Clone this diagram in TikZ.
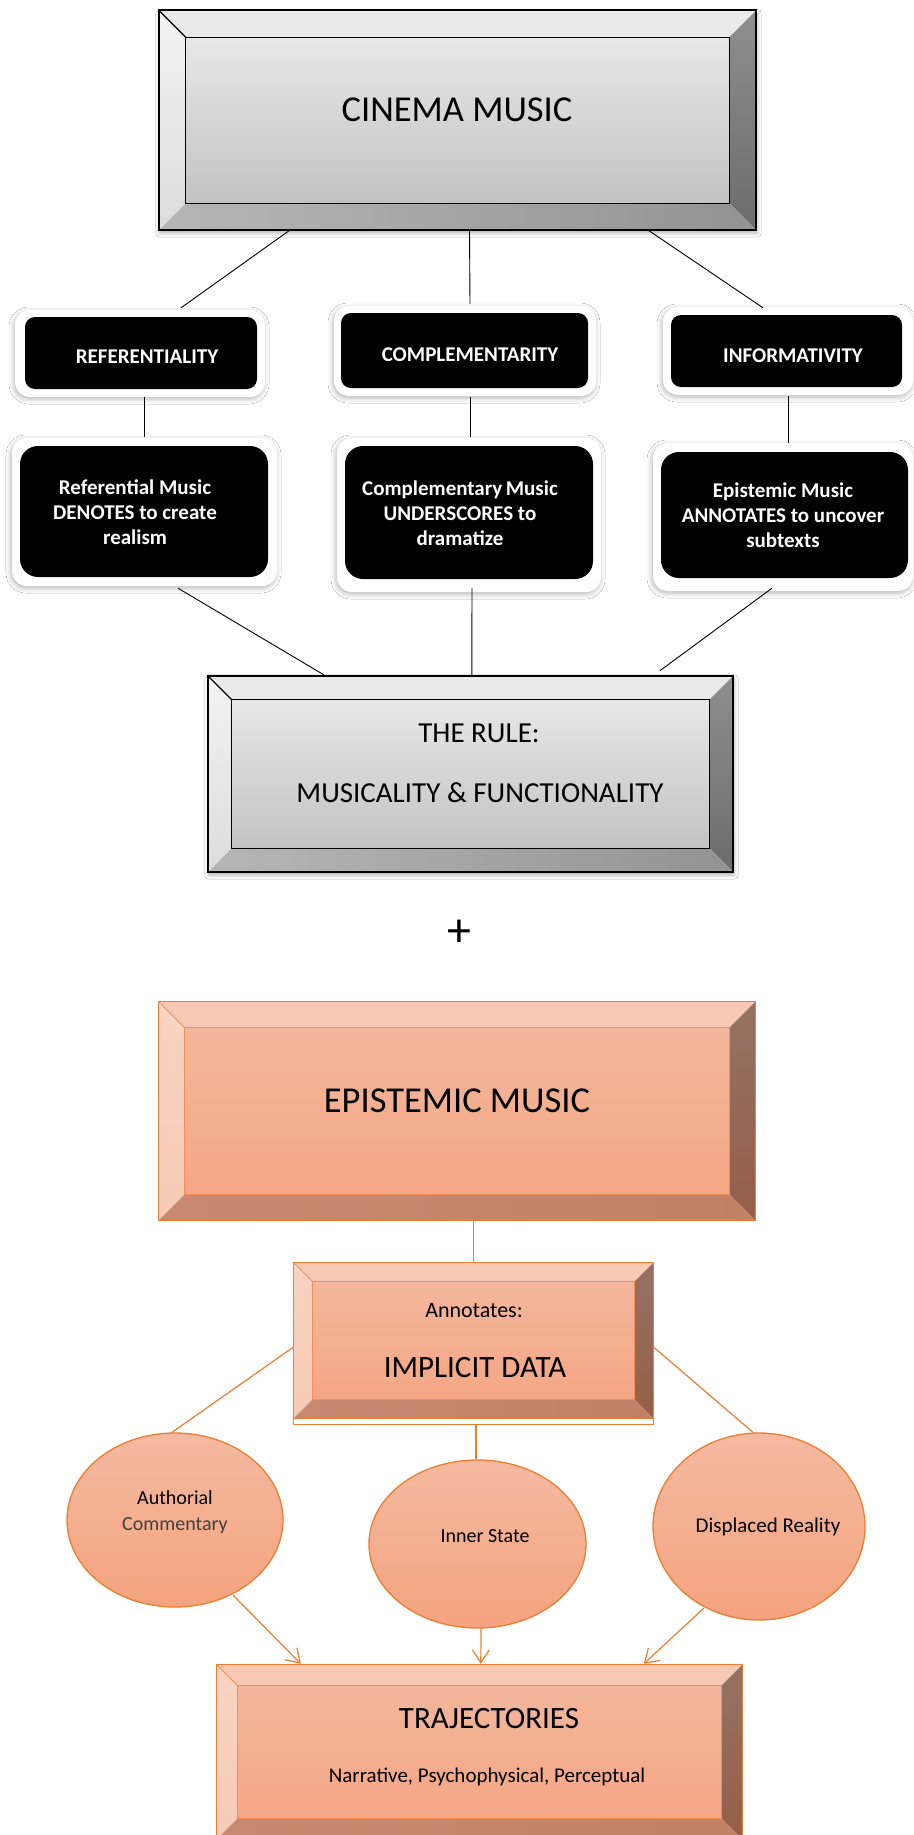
\documentclass[tikz,border=0pt]{standalone}
\usepackage{fontspec}
\setmainfont{Carlito}
\usetikzlibrary{calc,shapes.geometric,arrows.meta,shadows.blur}

% grey bevelled frame
\definecolor{gTop}{HTML}{EAEAEA}
\definecolor{gLeftA}{HTML}{F3F3F3}
\definecolor{gLeftB}{HTML}{DCDCDC}
\definecolor{gRightA}{HTML}{8F8F8F}
\definecolor{gRightB}{HTML}{6C6C6C}
\definecolor{gBotA}{HTML}{B6B6B6}
\definecolor{gBotB}{HTML}{939393}
\definecolor{gFaceA}{HTML}{E7E7E7}
\definecolor{gFaceB}{HTML}{C3C3C3}
% peach bevelled frame
\definecolor{pTop}{HTML}{F7C9B4}
\definecolor{pLeftA}{HTML}{F9D4C3}
\definecolor{pLeftB}{HTML}{F6CAB6}
\definecolor{pRightA}{HTML}{957264}
\definecolor{pRightB}{HTML}{955F48}
\definecolor{pBotA}{HTML}{C78A70}
\definecolor{pBotB}{HTML}{C18166}
\definecolor{pFaceA}{HTML}{F3B79D}
\definecolor{pFaceB}{HTML}{F4A684}
\definecolor{pInner}{HTML}{EE9058}
\definecolor{pLine}{HTML}{ED7D31}
\definecolor{ellA}{HTML}{F4BAA1}
\definecolor{ellB}{HTML}{F4A37E}

\tikzset{
  boxnode/.style={rectangle, draw=none, inner sep=0pt},
  grey base/.style={fill=white, blur shadow={shadow xshift=1pt, shadow yshift=-3pt, shadow blur radius=4pt, shadow opacity=30}},
  grey top/.style={fill=gTop},
  grey left/.style={top color=gLeftA, bottom color=gLeftB},
  grey right/.style={top color=gRightA, bottom color=gRightB},
  grey bottom/.style={left color=gBotA, right color=gBotB},
  grey face/.style={top color=gFaceA, bottom color=gFaceB},
  grey inner line/.style={draw=black, line width=1.1pt},
  grey outer line/.style={draw=black, line width=2pt},
  peach base/.style={fill=white},
  peach top/.style={fill=pTop},
  peach left/.style={top color=pLeftA, bottom color=pLeftB},
  peach right/.style={top color=pRightA, bottom color=pRightB},
  peach bottom/.style={left color=pBotA, right color=pBotB},
  peach face/.style={top color=pFaceA, bottom color=pFaceB},
  peach inner line/.style={draw=pInner, line width=0.9pt},
  peach outer line/.style={draw=pLine, line width=1.3pt},
  glow/.style={fill=white, rounded corners=15pt,
    blur shadow={shadow xshift=-1pt, shadow yshift=-2pt, shadow blur radius=5pt, shadow opacity=30}},
  blackbox/.style={rectangle, fill=black, inner sep=0pt},
  ell/.style={ellipse, draw=pLine, line width=1.3pt, top color=ellA, bottom color=ellB, inner sep=0pt},
  lbl/.style={anchor=base, inner sep=0pt, text=black},
  wlbl/.style={anchor=base, inner sep=0pt, text=white, font=\bfseries\fontsize{21}{25}\selectfont, align=center},
  bline/.style={draw=black, line width=0.9pt},
  oline/.style={draw=pLine, line width=1.2pt},
  oarrow/.style={oline, -{Straight Barb[length=13pt, width=17pt, line width=1.2pt]}},
}

% bevelled frame drawn on the corners of a named node
\newcommand{\drawbevelbox}[3]{%
  \coordinate (bvA) at (#1.north west);
  \coordinate (bvB) at (#1.north east);
  \coordinate (bvC) at (#1.south east);
  \coordinate (bvD) at (#1.south west);
  \coordinate (bva) at ($(bvA)+(#2,#2)$);
  \coordinate (bvb) at ($(bvB)+(-#2,#2)$);
  \coordinate (bvc) at ($(bvC)+(-#2,-#2)$);
  \coordinate (bvd) at ($(bvD)+(#2,-#2)$);
  \path[#3 base] (bvA) rectangle (bvC);
  \fill[#3 top] (bvA)--(bvB)--(bvb)--(bva)--cycle;
  \shade[#3 left] (bvA)--(bva)--(bvd)--(bvD)--cycle;
  \shade[#3 right] (bvB)--(bvC)--(bvc)--(bvb)--cycle;
  \shade[#3 bottom] (bvD)--(bvd)--(bvc)--(bvC)--cycle;
  \shade[#3 face] (bva) rectangle (bvc);
  \draw[#3 inner line] (bva) rectangle (bvc);
  \draw[#3 inner line] (bvA)--(bva);
  \draw[#3 outer line] (bvA) rectangle (bvC);
}

\begin{document}
\begin{tikzpicture}[x=1pt, y=-1pt]
\fill[white] (0,0) rectangle (913,1835);
\useasboundingbox (0,0) rectangle (913,1835);

% ---------- upper half: cinema music ----------
\node[boxnode, minimum width=597, minimum height=219.5] (cinema) at (457.5,120.25) {};
\drawbevelbox{cinema}{27}{grey}
\node[lbl, font=\fontsize{36.5}{43}\selectfont] (cinema-t) at (457,122) {CINEMA MUSIC};

% glows behind the black boxes
\path[glow] (15,310) rectangle (265,397);
\path[glow] (334,306) rectangle (596,396);
\path[glow] (663,307) rectangle (913,395);
\path[glow] (12,438) rectangle (277,586);
\path[glow] (337,438) rectangle (601,592);
\path[glow] (653,443) rectangle (913,591);

\node[blackbox, rounded corners=10pt, minimum width=232, minimum height=72] (ref1) at (141,353) {};
\node[blackbox, rounded corners=10pt, minimum width=247, minimum height=75] (comp1) at (464.5,350.5) {};
\node[blackbox, rounded corners=10pt, minimum width=231, minimum height=72] (info1) at (786.5,351) {};
\node[wlbl] (ref1-t) at (147,363) {REFERENTIALITY};
\node[wlbl] (comp1-t) at (470,361) {COMPLEMENTARITY};
\node[wlbl] (info1-t) at (793,362) {INFORMATIVITY};

\node[blackbox, rounded corners=18pt, minimum width=248, minimum height=131] (ref2) at (144,511.5) {};
\node[blackbox, rounded corners=18pt, minimum width=248, minimum height=133] (comp2) at (469,512.5) {};
\node[blackbox, rounded corners=18pt, minimum width=247, minimum height=126] (epi2) at (784.5,515) {};
\node[wlbl, anchor=center] (ref2-t) at (135,512) {Referential Music\\DENOTES to create\\realism};
\node[wlbl, anchor=center] (comp2-t) at (460,513) {Complementary\,Music\\UNDERSCORES to\\dramatize};
\node[wlbl, anchor=center] (epi2-t) at (783,515) {Epistemic Music\\ANNOTATES to uncover\\subtexts};

\node[boxnode, minimum width=525, minimum height=196] (rule) at (470.5,774) {};
\drawbevelbox{rule}{24}{grey}
\node[lbl, font=\fontsize{29}{35}\selectfont] (rule-t1) at (479,742) {THE RULE:};
\node[lbl, font=\fontsize{29}{35}\selectfont] (rule-t2) at (480,802) {MUSICALITY \& FUNCTIONALITY};

% connectors of the upper half
\draw[bline] ($(cinema.south west)+(131,0)$) -- ($(ref1.north)+(40,-9)$);
\draw[bline] ($(cinema.south)+(12,0)$) -- ($(comp1.north)+(5.5,-9)$);
\draw[bline] ($(cinema.south east)+(-108,0)$) -- ($(info1.north)+(-23.5,-7)$);
\draw[bline] ($(ref1.south)+(3,8)$) -- ($(ref2.north)+(0,-9)$);
\draw[bline] ($(comp1.south)+(5.5,9)$) -- ($(comp2.north)+(1,-9)$);
\draw[bline] ($(info1.south)+(1.5,9)$) -- ($(epi2.north)+(3.5,-9)$);
\draw[bline] ($(ref2.south)+(34,11)$) -- ($(rule.north west)+(116,-1)$);
\draw[bline] ($(comp2.south)+(3,9)$) -- ($(rule.north west)+(264,-1)$);
\draw[bline] ($(epi2.south)+(-12.5,10)$) -- ($(rule.north west)+(452,-5)$);

% ---------- plus sign ----------
\node[inner sep=0pt, font=\fontsize{48}{50}\selectfont] (plus) at (459.5,933) {+};

% ---------- lower half: epistemic music ----------
\node[boxnode, minimum width=596, minimum height=218] (epi) at (457,1111) {};
\drawbevelbox{epi}{26}{peach}
\node[lbl, font=\fontsize{36.5}{43}\selectfont] (epi-t) at (457,1112) {EPISTEMIC MUSIC};

\node[boxnode, minimum width=359, minimum height=155] (annot) at (473.5,1340.5) {};
\drawbevelbox{annot}{19}{peach}
\draw[peach outer line] (annot.north west) rectangle ($(annot.south east)+(0,6)$);
\node[lbl, font=\fontsize{22}{26}\selectfont] (annot-t1) at (474,1317) {Annotates:};
\node[lbl, font=\fontsize{31}{37}\selectfont] (annot-t2) at (475,1377) {IMPLICIT DATA};

\node[ell, minimum width=216, minimum height=174] (auth) at (175,1520) {};
\node[ell, minimum width=217, minimum height=168] (innerst) at (477.5,1544) {};
\node[ell, minimum width=212, minimum height=187] (disp) at (759,1526.5) {};
\node[lbl, font=\fontsize{20}{24}\selectfont] (auth-t1) at (175,1504) {Authorial};
\node[lbl, font=\fontsize{20}{24}\selectfont, text=black!75] (auth-t2) at (175,1530) {Commentary};
\node[lbl, font=\fontsize{20}{24}\selectfont] (innerst-t) at (485,1542) {Inner State};
\node[lbl, font=\fontsize{21}{25}\selectfont] (disp-t) at (768,1532) {Displaced Reality};

\node[boxnode, minimum width=525, minimum height=174] (traj) at (479.5,1752) {};
\drawbevelbox{traj}{21}{peach}
\node[lbl, font=\fontsize{31}{37}\selectfont] (traj-t1) at (489,1728) {TRAJECTORIES};
\node[lbl, font=\fontsize{21}{25}\selectfont] (traj-t2) at (487,1782) {Narrative, Psychophysical, Perceptual};

% connectors of the lower half
\draw[oline] (epi.south -| annot.north) -- (annot.north);
\draw[oline] ($(annot.north west)+(0,84)$) -- ($(auth.north)+(-3,0)$);
\draw[oline] ($(annot.north east)+(0,84)$) -- ($(disp.north)+(-6,0)$);
\draw[oline] ($(annot.south)+(2.5,6)$) -- ($(innerst.north)+(-1.5,0)$);
\draw[oarrow] ($(auth.center)+(58,75)$) -- ($(traj.north west)+(84,-1)$);
\draw[oarrow] ($(innerst.south)+(3.5,0)$) -- ($(traj.north west)+(264,-1)$);
\draw[oarrow] ($(disp.center)+(-55,81.5)$) -- ($(traj.north west)+(427,-1)$);
\end{tikzpicture}
\end{document}
